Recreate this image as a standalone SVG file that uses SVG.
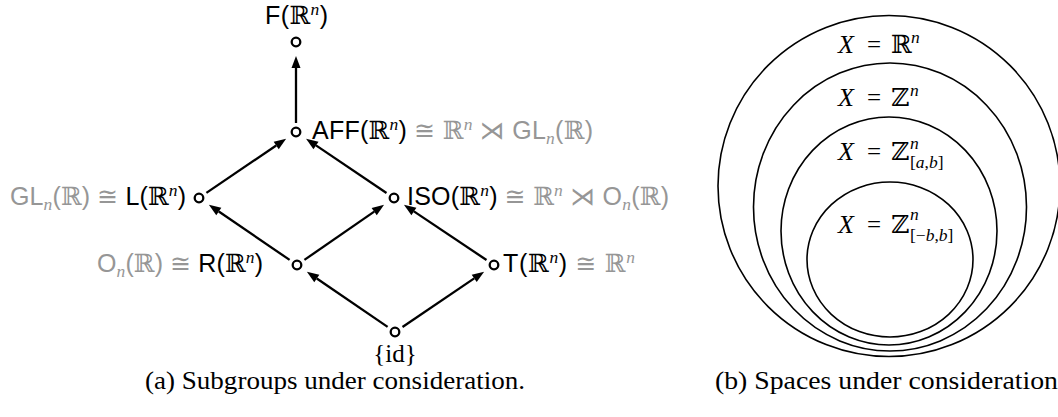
<svg xmlns="http://www.w3.org/2000/svg" width="1058" height="417" viewBox="0 0 1058 417">
<style>
.bg{fill:#fff}
.nd{fill:#fff;stroke:#000;stroke-width:2.3}
.edge{stroke:#000;stroke-width:2.3;fill:none;marker-end:url(#arr)}
.lbl{font-family:"Liberation Sans",Arial,sans-serif;font-size:25px;fill:#000}
.g{fill:#969696}
.bb{font-family:"DejaVu Serif","DejaVu Sans",serif}
.m{font-family:"DejaVu Sans",sans-serif}
.it{font-family:"Liberation Serif",serif;font-style:italic}
.sm{font-size:17.5px}
.ring{fill:none;stroke:#000;stroke-width:1.6}
.math{font-family:"Liberation Serif",serif;font-size:25px;fill:#000}
.bx{font-size:26px}
.cap{font-family:"Liberation Serif","Times New Roman",serif;font-size:26px;fill:#000}
</style>
<defs>
<marker id="arr" markerUnits="userSpaceOnUse" markerWidth="14" markerHeight="10" refX="0" refY="5" orient="auto" overflow="visible">
<path d="M0,0.5 L12,5 L0,9.5 Z" fill="#000"/>
</marker>
</defs>
<rect class="bg" x="0" y="0" width="1058" height="417"/>

<g id="connectors">
<line class="edge" x1="296" y1="123" x2="296" y2="68"/>
<line class="edge" x1="206.4" y1="192.9" x2="276.2" y2="145.5"/>
<line class="edge" x1="386.5" y1="193.0" x2="316.0" y2="145.4"/>
<line class="edge" x1="289.6" y1="259.9" x2="218.8" y2="211.5"/>
<line class="edge" x1="304.4" y1="259.9" x2="374.2" y2="211.6"/>
<line class="edge" x1="486.5" y1="260.0" x2="413.9" y2="211.4"/>
<line class="edge" x1="387.6" y1="326.9" x2="316.8" y2="278.5"/>
<line class="edge" x1="402.5" y1="327.0" x2="474.2" y2="278.4"/>
</g>

<g id="node-F">
<circle class="nd" cx="296" cy="42" r="4.3"/>
<text class="lbl" x="265" y="24" textLength="63" lengthAdjust="spacing">F(<tspan class="bb">ℝ</tspan><tspan class="it sm" dy="-9">n</tspan><tspan dy="9">)</tspan></text>
</g>

<g id="node-AFF">
<circle class="nd" cx="296" cy="132" r="4.3"/>
<text class="lbl" x="312" y="139" textLength="281" lengthAdjust="spacing">AFF(<tspan class="bb">ℝ</tspan><tspan class="it sm" dy="-9">n</tspan><tspan dy="9">)</tspan><tspan class="g"> <tspan class="m">≅</tspan> <tspan class="bb">ℝ</tspan><tspan class="it sm" dy="-9">n</tspan><tspan dy="9"> </tspan><tspan class="m">⋊</tspan> GL<tspan class="it sm" dy="5">n</tspan><tspan dy="-5">(</tspan><tspan class="bb">ℝ</tspan>)</tspan></text>
</g>

<g id="node-L">
<circle class="nd" cx="199" cy="198" r="4.3"/>
<text class="lbl" x="10" y="205" textLength="176" lengthAdjust="spacing"><tspan class="g">GL<tspan class="it sm" dy="5">n</tspan><tspan dy="-5">(</tspan><tspan class="bb">ℝ</tspan>) <tspan class="m">≅</tspan> </tspan>L(<tspan class="bb">ℝ</tspan><tspan class="it sm" dy="-9">n</tspan><tspan dy="9">)</tspan></text>
</g>

<g id="node-ISO">
<circle class="nd" cx="394" cy="198" r="4.3"/>
<text class="lbl" x="407" y="205" textLength="262" lengthAdjust="spacing">ISO(<tspan class="bb">ℝ</tspan><tspan class="it sm" dy="-9">n</tspan><tspan dy="9">)</tspan><tspan class="g"> <tspan class="m">≅</tspan> <tspan class="bb">ℝ</tspan><tspan class="it sm" dy="-9">n</tspan><tspan dy="9"> </tspan><tspan class="m">⋊</tspan> O<tspan class="it sm" dy="5">n</tspan><tspan dy="-5">(</tspan><tspan class="bb">ℝ</tspan>)</tspan></text>
</g>

<g id="node-R">
<circle class="nd" cx="297" cy="265" r="4.3"/>
<text class="lbl" x="97" y="272" textLength="166" lengthAdjust="spacing"><tspan class="g">O<tspan class="it sm" dy="5">n</tspan><tspan dy="-5">(</tspan><tspan class="bb">ℝ</tspan>) <tspan class="m">≅</tspan> </tspan>R(<tspan class="bb">ℝ</tspan><tspan class="it sm" dy="-9">n</tspan><tspan dy="9">)</tspan></text>
</g>

<g id="node-T">
<circle class="nd" cx="494" cy="265" r="4.3"/>
<text class="lbl" x="503" y="272" textLength="132" lengthAdjust="spacing">T(<tspan class="bb">ℝ</tspan><tspan class="it sm" dy="-9">n</tspan><tspan dy="9">)</tspan><tspan class="g"> <tspan class="m">≅</tspan> <tspan class="bb">ℝ</tspan><tspan class="it sm" dy="-9">n</tspan></tspan></text>
</g>

<g id="node-id">
<circle class="nd" cx="395" cy="332" r="4.3"/>
<text class="math" x="395" y="362" text-anchor="middle">{id}</text>
</g>

<g id="spaces">
<ellipse class="ring" cx="889" cy="186" rx="171" ry="170.5"/>
<ellipse class="ring" cx="890" cy="207" rx="136.5" ry="144"/>
<ellipse class="ring" cx="889" cy="231" rx="108" ry="114"/>
<ellipse class="ring" cx="890" cy="259.5" rx="83" ry="77.5"/>
<text class="math" y="53"><tspan class="it bx" x="838">X</tspan><tspan x="867">=</tspan><tspan class="bb" x="891">ℝ</tspan><tspan class="it sm" x="911" y="43">n</tspan></text>
<text class="math" y="106"><tspan class="it bx" x="838">X</tspan><tspan x="867">=</tspan><tspan class="bb" x="891">ℤ</tspan><tspan class="it sm" x="910" y="96">n</tspan></text>
<text class="math" y="160"><tspan class="it bx" x="838">X</tspan><tspan x="867">=</tspan><tspan class="bb" x="891">ℤ</tspan><tspan class="it sm" x="910" y="149">n</tspan><tspan class="sm" x="910" y="168">[<tspan class="it">a</tspan>,<tspan class="it">b</tspan>]</tspan></text>
<text class="math" y="233"><tspan class="it bx" x="838">X</tspan><tspan x="867">=</tspan><tspan class="bb" x="891">ℤ</tspan><tspan class="it sm" x="910" y="220">n</tspan><tspan class="sm" x="910" y="241">[−<tspan class="it">b</tspan>,<tspan class="it">b</tspan>]</tspan></text>
</g>

<text class="cap" x="145" y="389" textLength="380" lengthAdjust="spacingAndGlyphs">(a) Subgroups under consideration.</text>
<text class="cap" x="715" y="389" textLength="343" lengthAdjust="spacingAndGlyphs">(b) Spaces under consideration</text>
</svg>
